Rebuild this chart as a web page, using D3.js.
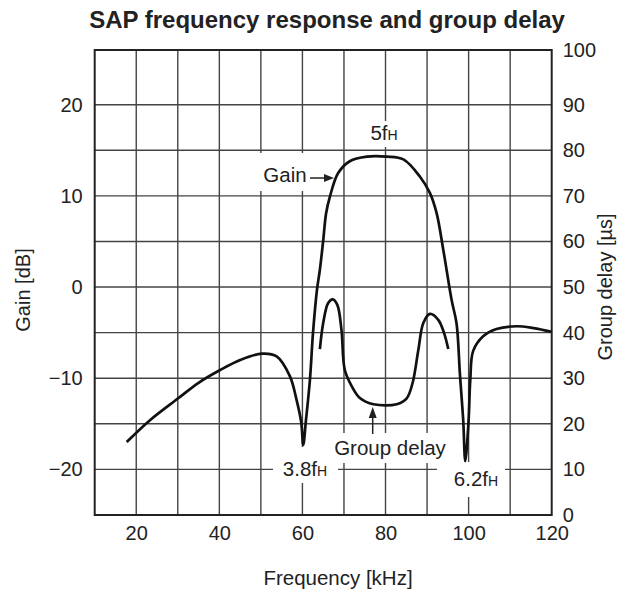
<!DOCTYPE html>
<html>
<head>
<meta charset="utf-8">
<script src="https://cdn.jsdelivr.net/npm/d3@7"></script>
<style>
  html, body { margin: 0; padding: 0; background: #fff; }
  svg { display: block; }
  text { font-family: "Liberation Sans", Arial, Helvetica, sans-serif; fill: #222; }
</style>
</head>
<body>
<svg id="chart" width="624" height="594"></svg>
<script>
// ---------- data ----------
const title = "SAP frequency response and group delay";
const xTicks = [20, 40, 60, 80, 100, 120];
const gainTicks = [-20, -10, 0, 10, 20];
const delayTicks = [0, 10, 20, 30, 40, 50, 60, 70, 80, 90, 100];

// Gain curve (kHz, dB)
const gainFreq = [17.7, 23.3, 30.1, 35.0, 40.2, 45.0, 50.2, 53.8, 57.0, 58.6, 59.7, 60.2, 60.85, 61.8, 62.55, 63.5, 64.2, 65.0, 65.7, 66.6, 68.6, 71.4, 75.5, 80.3, 84.3, 88.3, 90.7, 92.3, 93.9, 95.9, 97.1, 97.9, 98.7, 99.2, 100.0, 100.4, 101.1, 103.5, 106.7, 111.6, 115.6, 120.0];
const gainDb   = [-17.0, -14.6, -12.2, -10.5, -9.1, -8.0, -7.3, -7.6, -9.8, -12.4, -14.8, -17.3, -14.6, -10.2, -5.0, -0.3, 1.9, 5.1, 8.1, 9.9, 12.5, 13.8, 14.3, 14.3, 14.0, 12.1, 10.3, 8.1, 4.1, -1.4, -4.0, -9.5, -14.6, -19.1, -14.6, -10.2, -7.0, -5.4, -4.6, -4.3, -4.5, -4.9];

// Group delay curve (kHz, µs)
const delayFreq = [64.2, 65.0, 66.2, 67.3, 68.4, 69.4, 70.2, 71.9, 73.9, 77.1, 82.7, 85.1, 86.5, 87.9, 89.1, 90.7, 92.7, 94.1, 95.1];
const delayUs   = [36.4, 42.1, 46.5, 47.3, 46.1, 40.6, 31.8, 28.2, 25.6, 24.3, 24.3, 25.6, 28.9, 36.2, 42.1, 44.1, 42.8, 39.9, 36.4];

// ---------- layout ----------
const svg = d3.select("#chart");
const L = 94.7, R = 551.7, T = 50, B = 515;

const x = d3.scaleLinear().domain([10, 120]).range([L, R]);
const yG = d3.scaleLinear().domain([-25, 26]).range([B, T]);
// right axis: labels sit on the 5 dB grid lines, 100 at the top frame
const yD = d3.scaleLinear().domain([0, 90, 100]).range([B, yG(20), T]);

const gridColor = "#444";

// grid
const gGrid = svg.append("g");
gGrid.selectAll("line.v").data(d3.range(20, 120, 10)).join("line")
  .attr("x1", d => x(d)).attr("x2", d => x(d)).attr("y1", T).attr("y2", B)
  .attr("stroke", gridColor).attr("stroke-width", 1.4);
gGrid.selectAll("line.h").data(d3.range(-20, 21, 5)).join("line")
  .attr("y1", d => yG(d)).attr("y2", d => yG(d)).attr("x1", L).attr("x2", R)
  .attr("stroke", gridColor).attr("stroke-width", 1.4);

// white boxes behind annotation labels
const boxes = [
  [256, 153, 56, 38],   // Gain
  [365, 121, 39, 26],   // 5fH
  [330, 433, 121, 30],  // Group delay
  [273, 447, 65, 36],   // 3.8fH
  [437, 462, 68, 35]    // 6.2fH
];
svg.append("g").selectAll("rect").data(boxes).join("rect")
  .attr("x", d => d[0]).attr("y", d => d[1]).attr("width", d => d[2]).attr("height", d => d[3])
  .attr("fill", "#fff");

// frame
svg.append("rect").attr("x", L).attr("y", T).attr("width", R - L).attr("height", B - T)
  .attr("fill", "none").attr("stroke", "#222").attr("stroke-width", 2);

// axes (labels only, no tick marks)
const axB = d3.axisBottom(x).tickValues(xTicks).tickSize(0).tickPadding(11);
svg.append("g").attr("transform", `translate(0,${B})`).call(axB)
  .call(g => g.select(".domain").remove());
const axL = d3.axisLeft(yG).tickValues(gainTicks).tickSize(0).tickPadding(12)
  .tickFormat(d => d < 0 ? "\u2212" + Math.abs(d) : d);
svg.append("g").attr("transform", `translate(${L},0)`).call(axL)
  .call(g => g.select(".domain").remove());
const axR = d3.axisRight(yD).tickValues(delayTicks).tickSize(0).tickPadding(11);
svg.append("g").attr("transform", `translate(${R},0)`).call(axR)
  .call(g => g.select(".domain").remove());
svg.selectAll(".tick text").attr("font-size", 20).attr("fill", "#222")
  .attr("font-family", '"Liberation Sans", Arial, sans-serif');

// curves
const lineG = d3.line().x((d, i) => x(gainFreq[i])).y(d => yG(d)).curve(d3.curveCatmullRom.alpha(0.5));
svg.append("path").attr("d", lineG(gainDb)).attr("fill", "none").attr("stroke", "#111")
  .attr("stroke-width", 2.7).attr("stroke-linejoin", "round");
const lineD = d3.line().x((d, i) => x(delayFreq[i])).y(d => yD(d)).curve(d3.curveCatmullRom.alpha(0.5));
svg.append("path").attr("d", lineD(delayUs)).attr("fill", "none").attr("stroke", "#111")
  .attr("stroke-width", 2.7).attr("stroke-linejoin", "round");

// title & axis titles
svg.append("text").attr("x", 327).attr("y", 28).attr("text-anchor", "middle")
  .attr("font-size", 24).attr("font-weight", "bold").text(title);
svg.append("text").attr("x", 338).attr("y", 585).attr("text-anchor", "middle")
  .attr("font-size", 20.5).text("Frequency [kHz]");
svg.append("text").attr("transform", "translate(30,290) rotate(-90)").attr("text-anchor", "middle")
  .attr("font-size", 20).text("Gain [dB]");
svg.append("text").attr("transform", "translate(612,287) rotate(-90)").attr("text-anchor", "middle")
  .attr("font-size", 20).text("Group delay [\u00b5s]");

// annotations
function fLabel(xc, yb, main) {
  const t = svg.append("text").attr("x", xc).attr("y", yb).attr("text-anchor", "middle").attr("font-size", 20.5);
  t.append("tspan").text(main);
  t.append("tspan").attr("font-size", 14).text("H");
}
fLabel(384, 140, "5f");
fLabel(305, 476, "3.8f");
fLabel(476, 486, "6.2f");

svg.append("text").attr("x", 285).attr("y", 182).attr("text-anchor", "middle").attr("font-size", 20.5).text("Gain");
svg.append("text").attr("x", 390).attr("y", 455).attr("text-anchor", "middle").attr("font-size", 20.5).text("Group delay");

// arrows
svg.append("line").attr("x1", 310).attr("x2", 326).attr("y1", 178).attr("y2", 178)
  .attr("stroke", "#222").attr("stroke-width", 1.5);
svg.append("path").attr("d", "M334,178 L324,174 L324,182 Z").attr("fill", "#222");
svg.append("line").attr("x1", 372.7).attr("x2", 372.7).attr("y1", 434).attr("y2", 416)
  .attr("stroke", "#222").attr("stroke-width", 1.5);
svg.append("path").attr("d", "M372.7,407 L368.7,418 L376.7,418 Z").attr("fill", "#222");
</script>
</body>
</html>
